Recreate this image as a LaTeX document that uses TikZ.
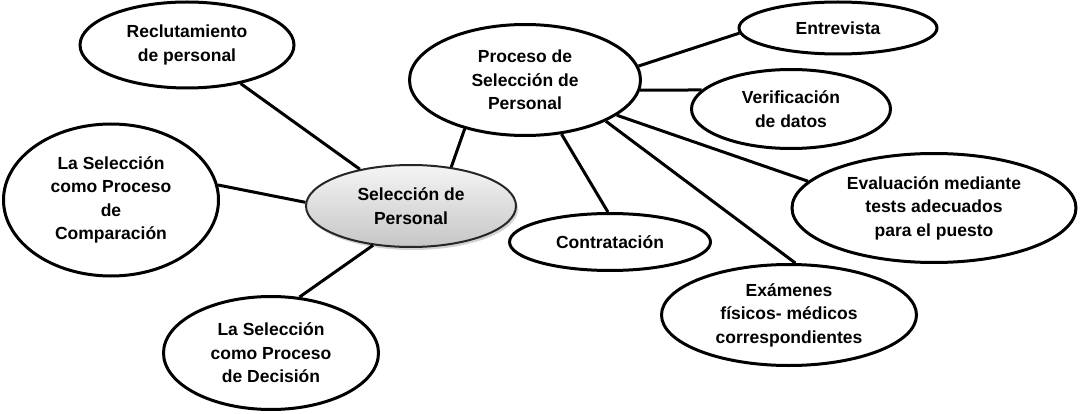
\documentclass[tikz,border=0pt]{standalone}
\usepackage{fontspec}
\setmainfont{Liberation Sans}
\usetikzlibrary{shapes.geometric,shadows}
\begin{document}
\begin{tikzpicture}[x=1pt,y=-1pt,
  bub/.style={ellipse,draw=black,line width=3pt,fill=white,inner sep=0pt,align=center,
              font=\bfseries\fontsize{17.5}{23.5}\selectfont},
  link/.style={line width=3pt}]
\useasboundingbox (0,0) rectangle (1081,414);
% left side
\node[bub,minimum width=214pt,minimum height=86pt] (rec) at (187,45) {Reclutamiento\\de personal};
\node[bub,minimum width=215pt,minimum height=152pt] (comp) at (111,200) {La Selección\\como Proceso\\de\\Comparación};
\node[bub,minimum width=215pt,minimum height=113pt] (dec) at (271,353) {La Selección\\como Proceso\\de Decisión};
\node[bub,minimum width=210pt,minimum height=82pt,line width=2pt,draw=black!85,
      top color=gray!8,bottom color=gray!45,
      drop shadow={opacity=0.35,shadow xshift=2pt,shadow yshift=-3pt}] (sel) at (411,206) {Selección de\\Personal};
% right side
\node[bub,minimum width=231pt,minimum height=111pt] (proc) at (525,80) {Proceso de\\Selección de\\Personal};
\node[bub,minimum width=198pt,minimum height=52pt] (ent) at (838,28) {Entrevista};
\node[bub,minimum width=199pt,minimum height=79pt] (ver) at (791,109) {Verificación\\de datos};
\node[bub,minimum width=284pt,minimum height=109pt] (eva) at (934,208) {Evaluación mediante\\tests adecuados\\para el puesto};
\node[bub,minimum width=201pt,minimum height=57pt] (con) at (610,242) {Contratación};
\node[bub,minimum width=255pt,minimum height=101pt] (exa) at (789,315) {Exámenes\\físicos- médicos\\correspondientes};
% connectors
\draw[link] (rec) -- (sel);
\draw[link] (comp.8) -- (sel.178);
\draw[link] (dec.63) -- (sel.-134);
\draw[link] (proc.-141) -- (sel.44);
\draw[link] (proc.7) -- (ent.-177);
\draw[link] (proc.-5) -- (ver.168);
\draw[link] (proc.-21) -- (eva.168);
\draw[link] (proc.-27) -- (exa.83);
\draw[link] (proc.-56) -- (con.94);
\end{tikzpicture}
\end{document}
